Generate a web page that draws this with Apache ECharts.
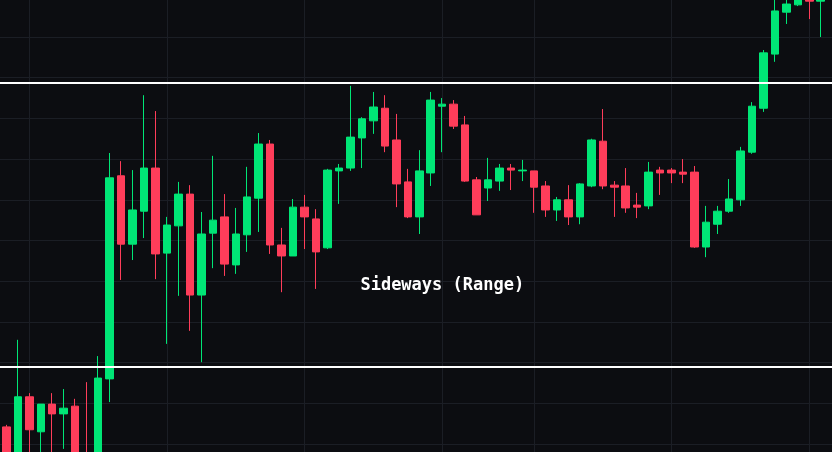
<!DOCTYPE html>
<html lang="en">
<head>
    <meta charset="UTF-8">
    <title>Sideways (Range)</title>
    <style type="text/css">
        body{
            margin: 0px;
            padding: 0px;
            background: #0c0d11;
        }
        #chart{
            width: 832px;
            height: 452px;
        }
    </style>
</head>
<body>
<div id="chart"></div>
<script src="https://cdn.jsdelivr.net/npm/echarts@6.0.0/dist/echarts.min.js"></script>
<script type="text/javascript">
    // candle values
    var opens = [114.2, 106.1, 121.6, 113.0, 119.8, 117.4, 119.3, 106.1, 103.6, 126.0,
        175.9, 159.1, 167.2, 177.8, 156.9, 163.6, 171.4, 146.6, 161.8, 165.8,
        154.0, 161.4, 170.4, 183.7, 158.9, 156.2, 168.2, 165.3, 158.2, 177.1,
        177.8, 185.2, 189.4, 192.5, 184.7, 174.4, 165.8, 176.6, 193.0, 193.5,
        188.4, 174.9, 172.9, 174.6, 177.8, 177.1, 177.1, 173.4, 167.5, 170.0,
        165.8, 173.4, 184.4, 173.6, 173.4, 168.7, 168.5, 177.3, 177.3, 176.8,
        176.8, 158.4, 164.0, 167.2, 170.0, 181.7, 192.5, 205.8, 216.1, 217.9,
        220.6, 218.8];
    var closes = [103.6, 121.6, 113.5, 119.8, 117.4, 118.8, 103.6, 98.7, 126.2, 175.4,
        159.1, 167.5, 177.8, 156.7, 163.8, 171.4, 146.6, 161.6, 165.0, 154.2,
        161.6, 170.7, 183.7, 158.9, 156.2, 168.2, 165.8, 157.2, 177.3, 177.8,
        185.4, 189.9, 192.8, 183.2, 173.9, 165.8, 177.1, 194.5, 193.5, 188.1,
        174.6, 166.3, 174.9, 177.8, 177.3, 177.3, 173.1, 167.5, 170.0, 165.8,
        173.9, 184.7, 173.4, 173.1, 168.0, 168.2, 176.8, 176.6, 176.6, 176.3,
        158.4, 164.5, 167.2, 170.2, 182.0, 193.0, 206.1, 216.4, 218.1, 220.6,
        218.8, 221.1];
    var lows = [101.2, 104.8, 106.1, 106.6, 107.3, 108.8, 101.2, 97.5, 101.2, 120.3,
        150.3, 155.2, 160.6, 150.5, 134.6, 146.4, 137.8, 130.1, 153.2, 151.3,
        151.8, 157.2, 162.1, 156.7, 147.3, 156.2, 157.9, 148.1, 157.9, 169.0,
        177.1, 177.8, 186.2, 181.7, 168.2, 165.5, 161.6, 173.4, 181.7, 187.4,
        174.4, 166.3, 169.7, 172.2, 172.4, 174.6, 166.8, 165.8, 164.8, 163.8,
        164.0, 173.1, 172.6, 165.8, 166.8, 165.5, 167.7, 171.2, 174.1, 174.1,
        158.2, 155.9, 161.6, 166.8, 168.5, 181.3, 191.6, 203.9, 213.2, 217.6,
        214.4, 210.0];
    var highs = [114.7, 135.6, 122.5, 119.8, 122.5, 123.5, 121.1, 125.2, 131.6, 181.5,
        179.5, 177.3, 195.7, 191.8, 165.8, 174.4, 173.6, 167.0, 180.8, 171.4,
        168.0, 178.1, 186.4, 184.7, 163.1, 170.2, 171.2, 167.7, 177.6, 178.8,
        198.0, 190.3, 196.5, 195.7, 191.1, 177.6, 182.2, 196.5, 195.0, 194.5,
        190.6, 175.6, 180.3, 178.8, 178.8, 179.8, 177.1, 174.6, 170.7, 173.6,
        174.1, 185.0, 192.3, 174.6, 177.8, 171.7, 179.3, 178.1, 177.8, 180.0,
        178.3, 168.5, 168.5, 175.1, 183.0, 194.0, 206.8, 220.3, 221.1, 221.5,
        221.5, 222.0];

    var rangeTop = 198.8;
    var rangeBottom = 129.0;
    var rangeLabel = 'Sideways (Range)';
    // candles where the vertical time lines fall
    var timeLines = [2, 14, 26, 38, 46, 58, 70];

    // x is the candle number, so the plot can run edge to edge
    var candles = opens.map(function (o, i) {
        return [i, o, closes[i], lows[i], highs[i]];
    });

    var up = '#00e676';
    var down = '#ff3d5a';
    var gridColor = '#1b1e25';

    var myChart = echarts.init(document.getElementById('chart'));
    myChart.setOption({
        backgroundColor: '#0c0d11',
        animation: false,
        grid: {
            left: 0,
            right: 0,
            top: -3.7,
            bottom: -32.7,
            outerBoundsMode: 'none'
        },
        xAxis: {
            type: 'value',
            min: -0.5545,
            max: 71.983,
            axisLine: {show: false},
            axisTick: {show: false},
            axisLabel: {show: false},
            splitLine: {show: false}
        },
        yAxis: {
            type: 'value',
            min: 100,
            max: 220,
            interval: 10,
            axisLine: {show: false},
            axisTick: {show: false},
            axisLabel: {show: false},
            splitLine: {show: true, lineStyle: {color: gridColor, width: 1}}
        },
        series: [{
            type: 'candlestick',
            data: candles,
            barWidth: 8,
            clip: false,
            z: 3,
            itemStyle: {
                color: up,
                color0: down,
                borderColor: up,
                borderColor0: down,
                borderWidth: 1
            },
            markLine: {
                symbol: 'none',
                silent: true,
                z: 1,
                label: {show: false},
                lineStyle: {color: gridColor, width: 1, type: 'solid'},
                data: timeLines.map(function (t) { return {xAxis: t}; })
            }
        }, {
            // range borders
            type: 'line',
            data: [],
            markLine: {
                symbol: 'none',
                silent: true,
                z: 4,
                label: {show: false},
                lineStyle: {color: '#ffffff', width: 2, type: 'solid'},
                data: [{yAxis: rangeTop}, {yAxis: rangeBottom}]
            }
        }],
        graphic: [{
            type: 'text',
            x: 442.3,
            y: 286,
            z: 10,
            style: {
                text: rangeLabel,
                fill: '#ffffff',
                fontSize: 17,
                fontWeight: 'bold',
                fontFamily: 'DejaVu Sans Mono',
                align: 'center',
                verticalAlign: 'middle'
            }
        }]
    });
</script>
</body>
</html>
